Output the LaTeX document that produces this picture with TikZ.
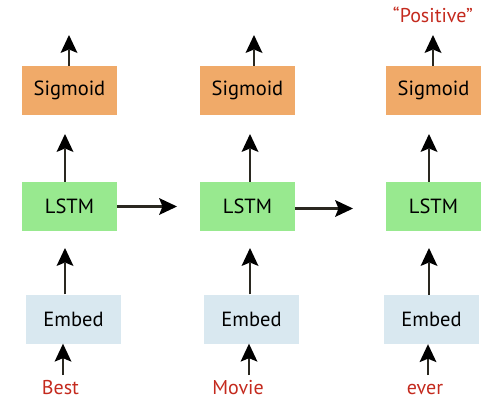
\documentclass[tikz,border=0pt]{standalone}
\usepackage{fontspec}
\setmainfont{PT Sans}
\usetikzlibrary{arrows.meta}
\definecolor{sigc}{HTML}{F0AA69}
\definecolor{lstmc}{HTML}{98E98F}
\definecolor{embc}{HTML}{D9E8F0}
\definecolor{wordc}{HTML}{C42A1E}
\definecolor{arrc}{HTML}{2A2820}
\begin{document}
\begin{tikzpicture}[x=1pt,y=-1pt,
  box/.style={minimum width=95pt,minimum height=49pt,inner sep=0pt,font=\fontsize{20.5}{24}\selectfont},
  sigbox/.style={box,fill=sigc},
  lstmbox/.style={box,fill=lstmc},
  embbox/.style={box,fill=embc},
  word/.style={text=wordc,anchor=base,inner sep=0pt,font=\fontsize{20}{24}\selectfont},
  arr/.style={draw=arrc,line width=2.2pt,-{Stealth[length=18pt,width=17pt,inset=3.5pt,fill=black,line width=0pt]}}
]
\useasboundingbox (0,0) rectangle (500,400);
% boxes
\node[sigbox] (s1) at (69.5,90.5) {Sigmoid};
\node[sigbox] (s2) at (247.5,90.5) {Sigmoid};
\node[sigbox] (s3) at (433.5,90.5) {Sigmoid};
\node[lstmbox] (l1) at (69.5,206.5) {LSTM};
\node[lstmbox] (l2) at (247.5,206.5) {LSTM};
\node[lstmbox] (l3) at (433.5,206.5) {LSTM};
\node[embbox] (e1) at (73.5,319) {Embed};
\node[embbox] (e2) at (251.5,319) {Embed};
\node[embbox] (e3) at (431.5,319.5) {Embed};
% words
\node[word] (w1) at (60.5,394) {Best};
\node[word] (w2) at (238,394) {Movie};
\node[word] (w3) at (425,394) {ever};
\node[word] (p3) at (433,22) {“Positive”};
% free ends
\coordinate (t1) at (69,35);
\coordinate (t2) at (254,35);
\coordinate (t3) at (433,35);
% top arrows
\draw[arr] (s1.north -| t1) -- (t1);
\draw[arr] (s2.north -| t2) -- (t2);
\draw[arr] (s3.north -| t3) -- (t3);
% lstm -> sigmoid
\coordinate (a1) at (65,134);
\coordinate (a2) at (250,134);
\coordinate (a3) at (429,134);
\draw[arr] (l1.north -| a1) -- (a1);
\draw[arr] (l2.north -| a2) -- (a2);
\draw[arr] (l3.north -| a3) -- (a3);
% embed -> lstm
\coordinate (b1) at (65,248);
\coordinate (b2) at (250,248);
\coordinate (b3) at (429,248);
\draw[arr] (e1.north -| b1) -- (b1);
\draw[arr] (e2.north -| b2) -- (b2);
\draw[arr] (e3.north -| b3) -- (b3);
% input arrows
\coordinate (c1) at (63,375);
\coordinate (c2) at (249,375);
\coordinate (c3) at (428,375);
\draw[arr] (c1) -- (c1 |- e1.south);
\draw[arr] (c2) -- (c2 |- e2.south);
\draw[arr] (c3) -- (c3 |- e3.south);
% horizontal
\coordinate (h1) at (177,206.5);
\coordinate (h2) at (353,208.5);
\draw[arr] (l1.east) -- (h1);
\draw[arr] (h2 -| l2.east) -- (h2);
\end{tikzpicture}
\end{document}
